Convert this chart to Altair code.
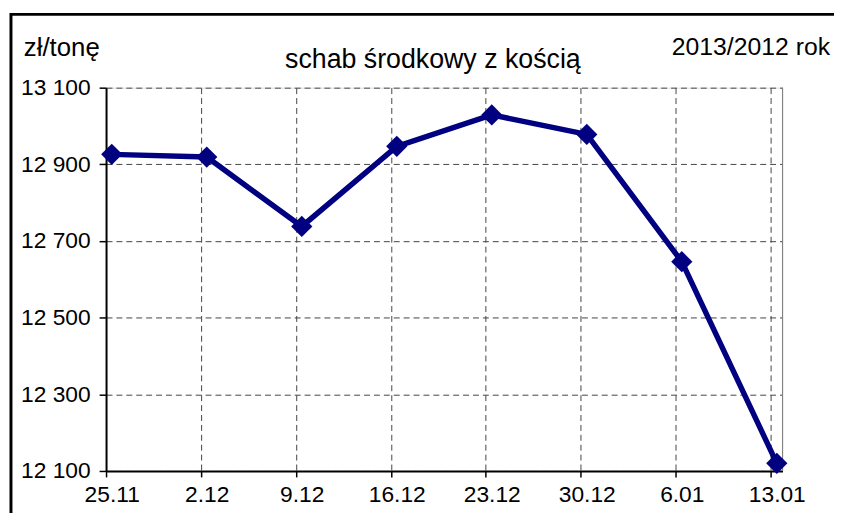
import altair as alt
import pandas as pd

# ---- data ----
dates = ["25.11", "2.12", "9.12", "16.12", "23.12", "30.12", "6.01", "13.01"]
prices = [12926, 12919, 12738, 12947, 13029, 12978, 12646, 12120]
y_ticks = [12100, 12300, 12500, 12700, 12900, 13100]
unit_label = "zł/tonę"
title_text = "schab środkowy z kością"
period_label = "2013/2012 rok"

df = pd.DataFrame({"date": dates, "price": prices})

W, H = 683, 387
FONT = "Liberation Sans"
TICK_FONT = "'Liberation Sans Narrow', 'Liberation Sans', sans-serif"
NAVY = "#000080"
GRID = "#444444"

x = alt.X(
    "date:N",
    sort=dates,
    scale=alt.Scale(type="point", padding=0.06),
    axis=alt.Axis(
        title=None, labelAngle=0, labelFontSize=23, labelColor="black", labelFont=TICK_FONT,
        tickOffset=-6, labelOffset=6, grid=True, gridDash=[6, 4], gridColor=GRID, gridWidth=1,
        domainColor="black", domainWidth=2, tickColor="black", tickWidth=1.5, tickSize=6,
        labelPadding=7,
    ),
)
y = alt.Y(
    "price:Q",
    scale=alt.Scale(domain=[12100, 13100], nice=False, zero=False),
    axis=alt.Axis(
        title=None, values=y_ticks,
        labelExpr="replace(format(datum.value, ','), ',', ' ')",
        labelFontSize=23, labelColor="black", labelFont=TICK_FONT,
        grid=True, gridDash=[6, 4], gridColor=GRID, gridWidth=1,
        domainColor="black", domainWidth=2, tickColor="black", tickWidth=1.5, tickSize=7,
        labelPadding=9,
    ),
)

base = alt.Chart(df)
line = base.mark_line(color=NAVY, strokeWidth=5.5).encode(x=x, y=y)
pts = base.mark_point(shape="diamond", filled=True, size=460, color=NAVY, opacity=1).encode(x=x, y=y)

one = alt.Data(values=[{}])
right_border = alt.Chart(one).mark_rule(color="#808080", strokeWidth=1).encode(
    x=alt.value(W), y=alt.value(0), y2=alt.value(H))
frame_left = alt.Chart(one).mark_rule(color="black", strokeWidth=3).encode(
    x=alt.value(-96), y=alt.value(-75.5), y2=alt.value(H + 60))
frame_top = alt.Chart(one).mark_rule(color="black", strokeWidth=3).encode(
    x=alt.value(-97), x2=alt.value(745), y=alt.value(-74))

t_unit = alt.Chart(one).mark_text(text=unit_label, align="left", baseline="alphabetic",
                                  fontSize=26, font=FONT, color="black").encode(
    x=alt.value(-83), y=alt.value(-32))
t_title = alt.Chart(one).mark_text(text=title_text, align="center", baseline="alphabetic",
                                   fontSize=27, font=FONT, color="black").encode(
    x=alt.value(330), y=alt.value(-20))
t_period = alt.Chart(one).mark_text(text=period_label, align="right", baseline="alphabetic",
                                    fontSize=25, font=FONT, color="black").encode(
    x=alt.value(731), y=alt.value(-33))

chart = alt.layer(
    right_border, line, pts, frame_left, frame_top, t_unit, t_title, t_period
).properties(
    width=W, height=H,
    autosize=alt.AutoSizeParams(type="none"),
    padding={"left": 99, "top": 78, "right": 52, "bottom": 40},
).configure_view(stroke=None).configure(background="white")

chart.save("out.html", embed_options={"renderer": "svg", "actions": False})
